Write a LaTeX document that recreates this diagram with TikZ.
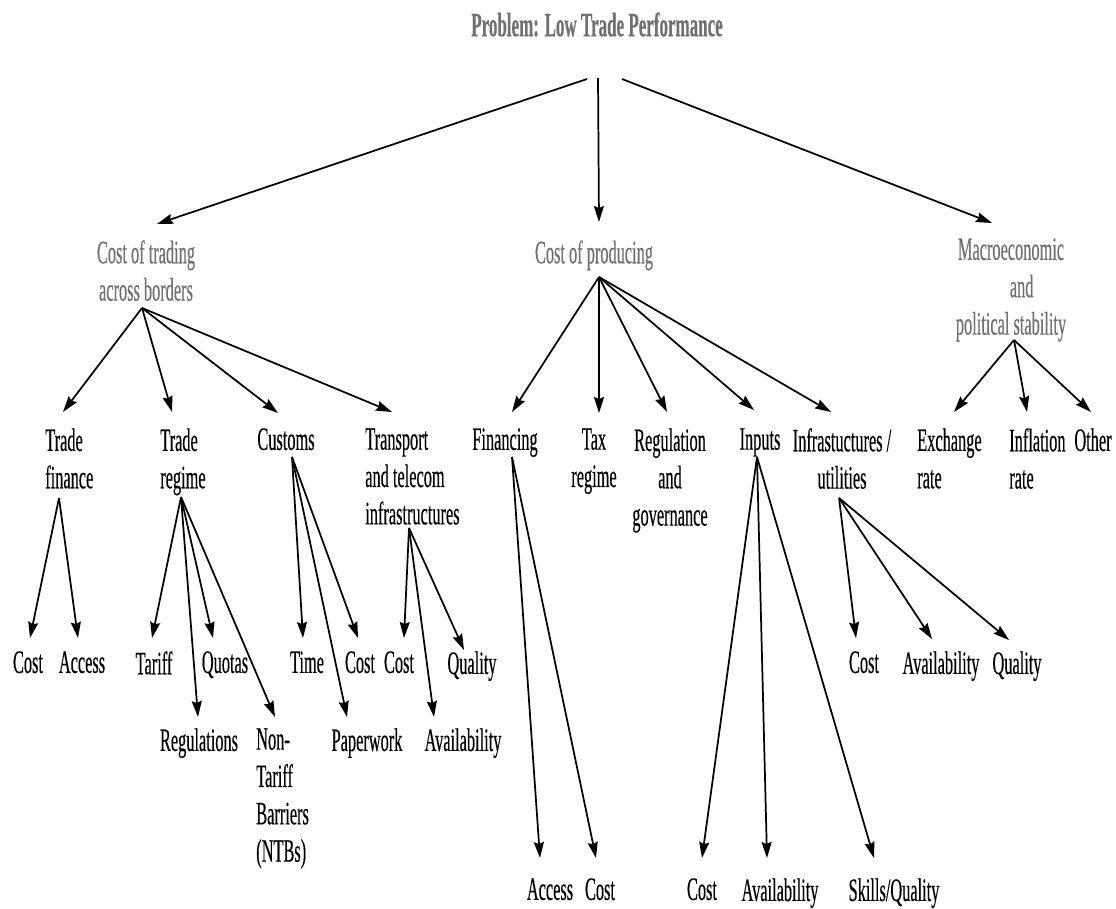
\documentclass[tikz,border=0pt]{standalone}
\usepackage{fontspec}
\setmainfont[FakeStretch=0.5,FakeBold=0.3]{Liberation Serif}
\usetikzlibrary{arrows.meta,calc}
\definecolor{lvlgray}{RGB}{112,112,112}
\newcommand\conn[4]{\draw[arr] ($(#1)+(#2)$) -- ($(#3)+(#4)$);}
\begin{document}
\begin{tikzpicture}[x=0.75pt,y=-0.75pt,
  lbl/.style={inner sep=0pt, font={\fontsize{24.5}{28}\selectfont}, align=center},
  lft/.style={lbl, align=left, anchor=north west},
  ctr/.style={lbl, anchor=north},
  grey/.style={text=lvlgray},
  titlebox/.style={inner sep=0pt, anchor=north, text=lvlgray, font={\fontsize{25.5}{30}\selectfont\bfseries}},
  arr/.style={-{Stealth[length=12pt,width=7.5pt,inset=1.5pt]}, line width=1.3pt}]
\fill[white] (0,0) rectangle (1116,909);
\useasboundingbox (0,0) rectangle (1116,909);

% titles
\node[titlebox] (root) at (597,12) {Problem: Low Trade Performance};
\node[ctr,grey] (ctb) at (146,240) {Cost of trading\\across borders};
\node[ctr,grey] (cop) at (594,240) {Cost of producing};
\node[ctr,grey] (mac) at (1011,238) {Macroeconomic\\\hspace*{16pt}and\\political stability};

% level 2
\node[lft] (tf) at (45,428) {Trade\\finance};
\node[lft] (tr) at (160,428) {Trade\\regime};
\node[ctr] (cus) at (286,428) {Customs};
\node[lft] (tt) at (365,428) {Transport\\and telecom\\infrastructures};
\node[ctr] (fin) at (505,428) {Financing};
\node[ctr] (tax) at (594,428) {Tax\\regime};
\node[ctr] (reg) at (670,428) {Regulation\\and\\governance};
\node[ctr] (inp) at (760,428) {Inputs};
\node[ctr] (inf) at (842,428) {Infrastuctures /\\utilities};
\node[lft] (exr) at (917,428) {Exchange\\rate};
\node[lft] (inr) at (1009,428) {Inflation\\rate};
\node[ctr] (oth) at (1093,428) {Other};

% level 3
\node[ctr] (c1) at (28,651) {Cost};
\node[ctr] (a1) at (82,651) {Access};
\node[ctr] (tar) at (154,651) {Tariff};
\node[ctr] (quo) at (225,651) {Quotas};
\node[ctr] (regs) at (199,728) {Regulations};
\node[lft] (ntb) at (256,728) {Non-\\Tariff\\Barriers\\(NTBs)};
\node[ctr] (tim) at (307,651) {Time};
\node[ctr] (c2) at (360,651) {Cost};
\node[ctr] (pap) at (367,728) {Paperwork};
\node[ctr] (c3) at (399,651) {Cost};
\node[ctr] (q1) at (472,651) {Quality};
\node[ctr] (av1) at (463,728) {Availability};
\node[ctr] (acc) at (550,878) {Access};
\node[ctr] (c5) at (600,878) {Cost};
\node[ctr] (c6) at (702,878) {Cost};
\node[ctr] (av2) at (780,878) {Availability};
\node[ctr] (sk) at (894,878) {Skills/Quality};
\node[ctr] (c4) at (864,651) {Cost};
\node[ctr] (av4) at (941,651) {Availability};
\node[ctr] (q4) at (1017,651) {Quality};

% connectors
\conn{root.north}{-10,67}{ctb.north}{11,-16}
\conn{root.north}{1,66}{cop.north}{5,-18}
\conn{root.north}{25,67}{mac.north}{-19,-15}

\conn{ctb.north}{-4,68}{tf.north west}{18,-16}
\conn{ctb.north}{-4,68}{tr.north west}{12,-16}
\conn{ctb.north}{-4,68}{cus.north}{-8,-15}
\conn{ctb.north}{-4,68}{tt.north west}{27,-16}

\conn{cop.north}{5,37}{fin.north}{7,-16}
\conn{cop.north}{5,37}{tax.north}{5,-15}
\conn{cop.north}{5,37}{reg.north}{-3,-16}
\conn{cop.north}{5,37}{inp.north}{-6,-18}
\conn{cop.north}{5,37}{inf.north}{-11,-16}

\conn{mac.north}{3,102}{exr.north west}{37,-16}
\conn{mac.north}{3,102}{inr.north west}{18,-16}
\conn{mac.north}{3,102}{oth.north}{-2,-16}

\conn{tf.north west}{14,70}{c1.north}{2,-13}
\conn{tf.north west}{14,70}{a1.north}{-4,-13}

\conn{tr.north west}{21,69}{tar.north}{-2,-13}
\conn{tr.north west}{21,69}{regs.north}{-1,-11}
\conn{tr.north west}{21,69}{quo.north}{-12,-13}
\conn{tr.north west}{21,69}{ntb.north west}{19,-11}

\conn{cus.north}{6,29}{tim.north}{-4,-13}
\conn{cus.north}{6,29}{pap.north}{-20,-11}
\conn{cus.north}{6,29}{c2.north}{-2,-13}

\conn{tt.north west}{44,100}{c3.north}{5,-13}
\conn{tt.north west}{44,100}{av1.north}{-29,-11}
\conn{tt.north west}{44,100}{q1.north}{-8,-1}

\conn{fin.north}{7,29}{acc.north}{-10,-20}
\conn{fin.north}{7,29}{c5.north}{-4,-20}

\conn{inp.north}{-3,29}{c6.north}{0,-20}
\conn{inp.north}{-3,29}{av2.north}{-13,-20}
\conn{inp.north}{-3,29}{sk.north}{-20,-20}

\conn{inf.north}{-3,70}{c4.north}{-8,-13}
\conn{inf.north}{-3,70}{av4.north}{-9,-12}
\conn{inf.north}{-3,70}{q4.north}{-8,-11}
\end{tikzpicture}
\end{document}
